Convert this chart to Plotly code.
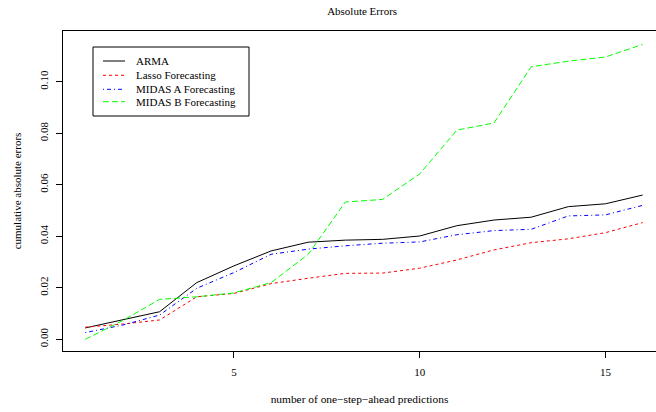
import plotly.graph_objects as go

steps = list(range(1, 17))
arma = [0.0044, 0.0075, 0.0107, 0.0220, 0.0285, 0.0343, 0.0377, 0.0385, 0.0388, 0.0401,
        0.0441, 0.0463, 0.0474, 0.0515, 0.0526, 0.0560]
lasso = [0.0047, 0.0059, 0.0075, 0.0165, 0.0178, 0.0216, 0.0237, 0.0256, 0.0257, 0.0276,
         0.0308, 0.0347, 0.0375, 0.0390, 0.0414, 0.0453]
midas_a = [0.0026, 0.0055, 0.0094, 0.0198, 0.0259, 0.0330, 0.0350, 0.0363, 0.0373, 0.0378,
           0.0406, 0.0422, 0.0427, 0.0479, 0.0483, 0.0520]
midas_b = [0.0000, 0.0072, 0.0155, 0.0165, 0.0180, 0.0220, 0.0330, 0.0533, 0.0543, 0.0642,
           0.0812, 0.0840, 0.1058, 0.1080, 0.1096, 0.1145]

series_names = ["ARMA", "Lasso Forecasting", "MIDAS A Forecasting", "MIDAS B Forecasting"]
series_values = [arma, lasso, midas_a, midas_b]
series_colors = ["black", "#ff0000", "#0000ff", "#00ff00"]
series_dashes = ["solid", "3px,3px", "1px,3px,4px,3px", "6px,3px"]

x_ticks = [5, 10, 15]
y_ticks = [0.00, 0.02, 0.04, 0.06, 0.08, 0.10]
y_ticklabels = ["0.00", "0.02", "0.04", "0.06", "0.08", "0.10"]

font = "Liberation Serif"

# plot area in pixels
L, R, T, B = 63, 656, 31, 351
def px_x(p):
    return (p - L) / (R - L)
def px_y(p):
    return (B - p) / (B - T)

fig = go.Figure()
for name, vals, color, dash in zip(series_names, series_values, series_colors, series_dashes):
    fig.add_trace(go.Scatter(x=steps, y=vals, mode="lines", name=name, showlegend=False,
                             line=dict(color=color, width=1, dash=dash)))

# manual legend (R style)
shapes = [dict(type="rect", xref="paper", yref="paper",
               x0=px_x(93), x1=px_x(249), y0=px_y(116), y1=px_y(47),
               line=dict(color="black", width=1), fillcolor="white", layer="above")]
annotations = []
rows = [61, 75.3, 89.3, 101.7]
for name, color, dash, ry in zip(series_names, series_colors, series_dashes, rows):
    shapes.append(dict(type="line", xref="paper", yref="paper",
                       x0=px_x(103), x1=px_x(125), y0=px_y(ry), y1=px_y(ry),
                       line=dict(color=color, width=1, dash=dash), layer="above"))
    annotations.append(dict(text=name, xref="paper", yref="paper", x=px_x(134), y=px_y(ry),
                            xanchor="left", yanchor="middle", showarrow=False,
                            font=dict(family=font, size=11, color="black")))

fig.update_layout(
    width=656, height=412,
    margin=dict(l=L, r=656 - R, t=T, b=412 - B),
    paper_bgcolor="white", plot_bgcolor="white",
    font=dict(family=font, size=11, color="black"),
    title=dict(text="Absolute Errors", x=0.552, xanchor="center", y=0.972, yanchor="middle",
               font=dict(family=font, size=11, color="black")),
    showlegend=False,
    shapes=shapes,
    annotations=annotations,
    xaxis=dict(range=[0.4, 16.36], showgrid=False, zeroline=False,
               tickmode="array", tickvals=x_ticks, ticks="outside", ticklen=6,
               tickcolor="black", showline=True, linecolor="black", linewidth=1,
               mirror=True, tickfont=dict(family=font, size=11), ticklabelstandoff=5,
               title=dict(text="number of one\u2212step\u2212ahead predictions", standoff=17,
                          font=dict(family=font, size=11.4))),
    yaxis=dict(range=[-0.00455, 0.1197], showgrid=False, zeroline=False,
               tickmode="array", tickvals=y_ticks, ticktext=y_ticklabels,
               ticks="outside", ticklen=6, tickangle=-90, tickfont=dict(family=font, size=11),
               ticklabelstandoff=4,
               tickcolor="black", showline=True, linecolor="black", linewidth=1,
               title=dict(text="cumulative absolute errors", standoff=13,
                          font=dict(family=font, size=11))),
)

fig.write_html("out.html")
